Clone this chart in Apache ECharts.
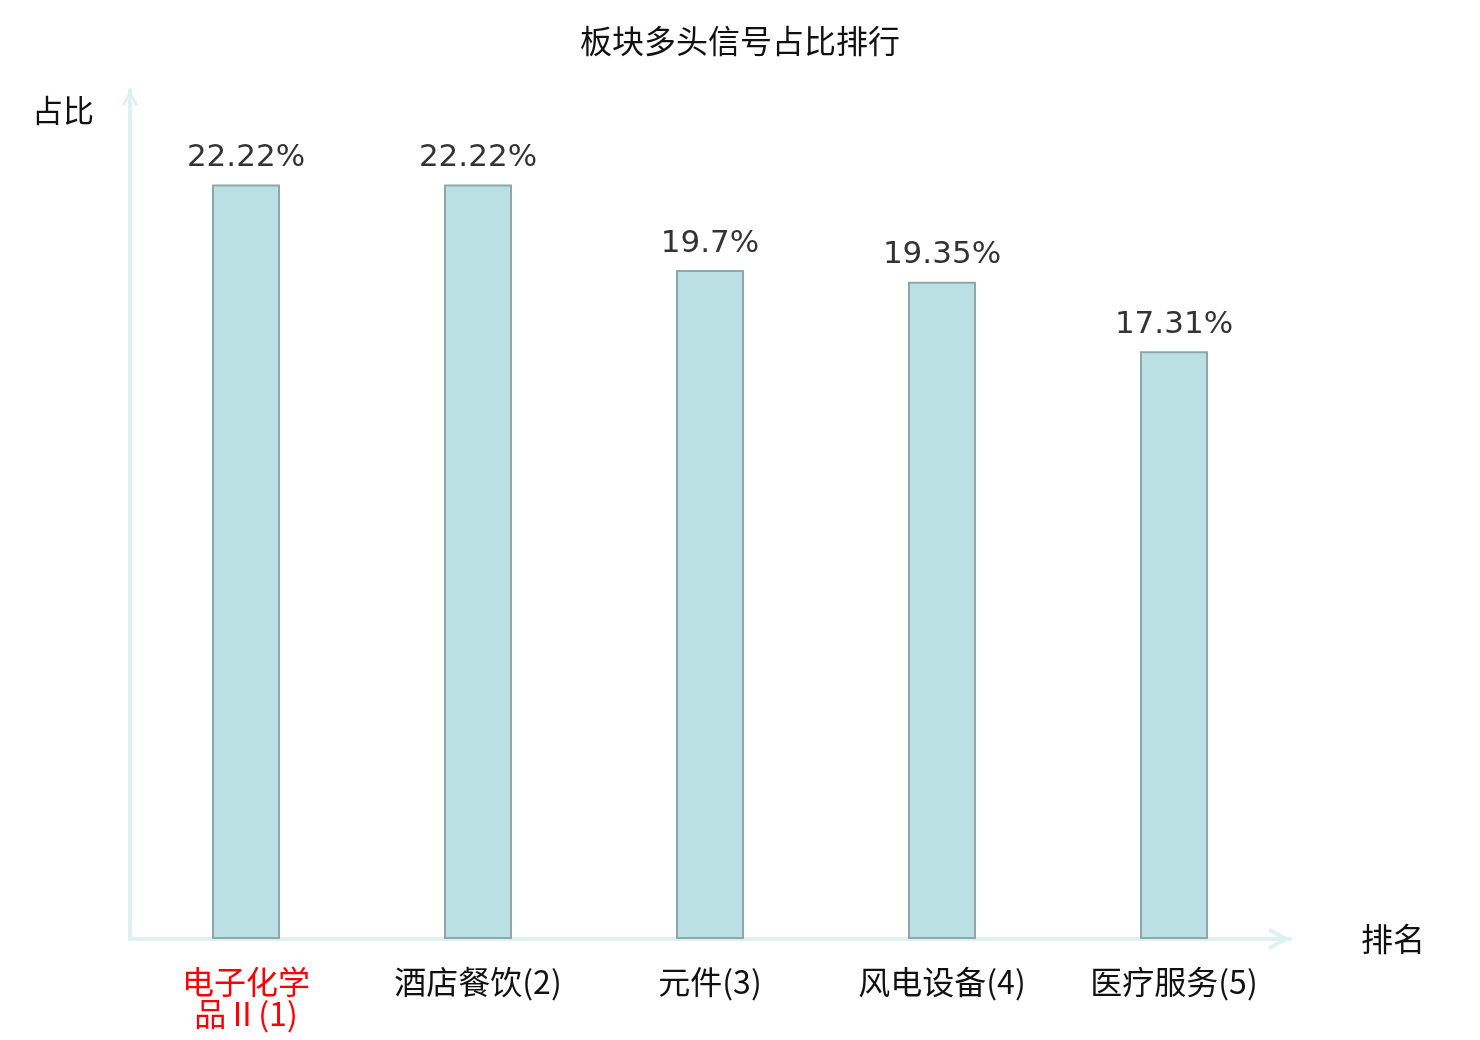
<!DOCTYPE html>
<html>
<head>
<meta charset="utf-8">
<script src="https://cdn.jsdelivr.net/npm/echarts@6/dist/echarts.min.js"></script>
<style>html,body{margin:0;padding:0;background:#fff;}#c{width:1480px;height:1040px;}</style>
</head>
<body>
<div id="c"></div>
<script>
var titleText = '板块多头信号占比排行';
var categories = ['电子化学品Ⅱ', '酒店餐饮', '元件', '风电设备', '医疗服务'];
var ranks = [1, 2, 3, 4, 5];
var values = [22.22, 22.22, 19.7, 19.35, 17.31];
var yName = '占比';
var xName = '排名';

var arrowPath = 'path://M11,0 L22,20 L18.5,22 L11,8 L3.5,22 L0,20 Z';
var axisColor = '#ddf2ef';
var cjk = 'Noto Sans CJK SC';

var chart = echarts.init(document.getElementById('c'));
chart.setOption({
  animation: false,
  backgroundColor: '#fff',
  title: {
    text: titleText,
    left: 'center',
    top: 20,
    textStyle: { fontSize: 32, fontWeight: 'normal', color: '#111', fontFamily: cjk }
  },
  grid: { left: 130, right: 190, top: 90, bottom: 101, containLabel: false },
  xAxis: {
    type: 'category',
    data: categories,
    name: xName,
    nameLocation: 'end',
    nameGap: 71,
    nameTextStyle: { fontSize: 32, color: '#111', fontFamily: cjk },
    axisLine: {
      show: true,
      lineStyle: { color: axisColor, width: 4 },
      symbol: ['none', arrowPath],
      symbolSize: [22, 22],
      symbolOffset: [0, -11]
    },
    axisTick: { show: false },
    axisLabel: {
      interval: 0,
      margin: 27,
      fontSize: 32,
      lineHeight: 32,
      fontFamily: cjk,
      color: function (v, i) { return i === 0 ? '#ff0000' : '#111'; },
      formatter: function (v, i) {
        var name = v.length > 4 ? v.slice(0, 4) + '\n' + v.slice(4) : v;
        return name + '(' + ranks[i] + ')';
      }
    },
    splitLine: { show: false }
  },
  yAxis: {
    type: 'value',
    min: 0,
    max: 25,
    name: yName,
    nameLocation: 'end',
    nameGap: -20,
    nameTextStyle: { fontSize: 31, color: '#111', align: 'right', verticalAlign: 'middle', padding: [0, 36, 0, 0], fontFamily: cjk },
    axisLine: {
      show: true,
      lineStyle: { color: axisColor, width: 4 },
      symbol: ['none', arrowPath],
      symbolSize: [20, 16],
      symbolOffset: [0, -8]
    },
    axisTick: { show: false },
    axisLabel: { show: false },
    splitLine: { show: false }
  },
  series: [{
    type: 'bar',
    data: values,
    barWidth: 68,
    itemStyle: { color: '#bbe0e3', borderColor: '#8ea8a9', borderWidth: 2 },
    label: {
      show: true,
      position: 'top',
      distance: 11,
      fontSize: 31,
      color: '#333',
      fontFamily: 'DejaVu Sans',
      formatter: function (p) { return p.value + '%'; }
    }
  }]
});
</script>
</body>
</html>
